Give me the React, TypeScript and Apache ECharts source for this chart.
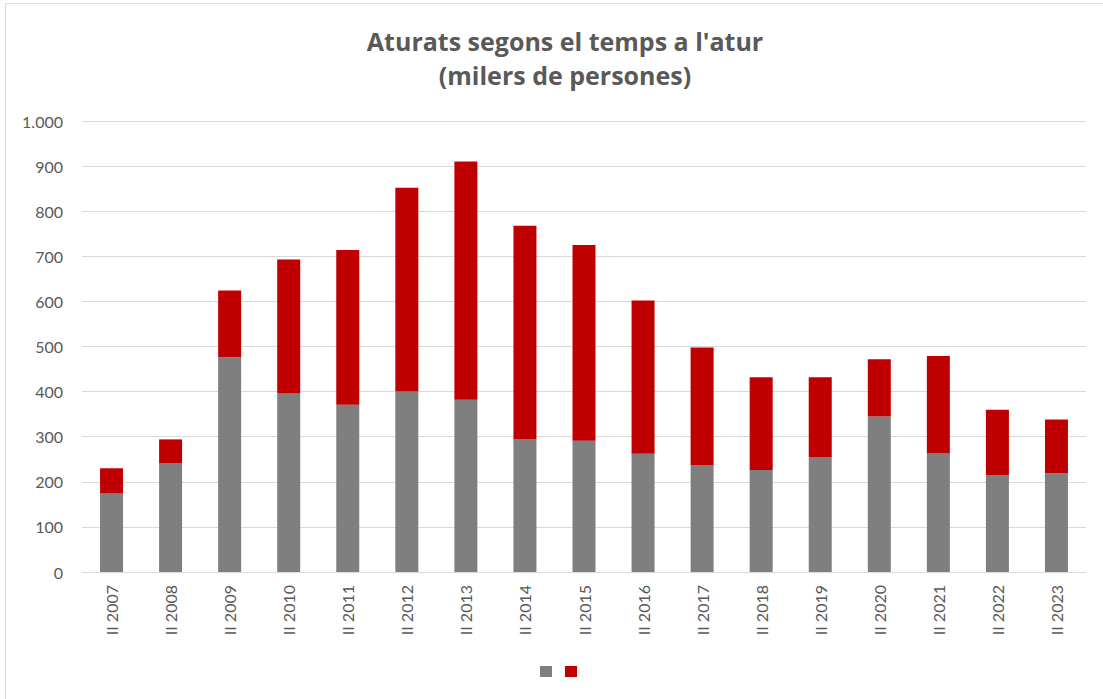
import React, { useEffect, useRef } from "react";
import * as echarts from "echarts";

const categories = [
  "II 2007", "II 2008", "II 2009", "II 2010", "II 2011", "II 2012", "II 2013", "II 2014", "II 2015",
  "II 2016", "II 2017", "II 2018", "II 2019", "II 2020", "II 2021", "II 2022", "II 2023",
];
// lower segment (grey)
const lessThanYear = [175, 241, 476, 396, 371, 400, 382, 295, 291, 262, 237, 226, 255, 345, 263, 215, 219];
// totals (top of the red segment)
const totals = [230, 294, 624, 693, 714, 852, 910, 768, 725, 602, 498, 432, 432, 472, 479, 360, 338];
const moreThanYear = totals.map((t, i) => t - lessThanYear[i]);

const titleText = "Aturats segons el temps a l'atur\n(milers de persones)";

export default function App() {
  const ref = useRef<HTMLDivElement>(null);
  useEffect(() => {
    if (!ref.current) return;
    const chart = echarts.init(ref.current, undefined, { renderer: "svg" });
    const font = "Lato, 'Open Sans', sans-serif";
    const titleFont = "'Open Sans', Lato, sans-serif";
    chart.setOption({
      animation: false,
      backgroundColor: "#ffffff",
      textStyle: { fontFamily: font },
      title: {
        text: titleText,
        left: 560,
        textAlign: "center",
        top: 19,
        textStyle: { fontFamily: titleFont, fontSize: 25, fontWeight: "bold", color: "#595959", lineHeight: 34 },
      },
      graphic: [
        {
          type: "rect",
          shape: { x: 5.5, y: 3.5, width: 1120, height: 720 },
          style: { fill: "none", stroke: "#d9d9d9", lineWidth: 1 },
          silent: true,
        },
      ],
      legend: {
        left: 535,
        top: 661,
        itemWidth: 12,
        itemHeight: 11,
        itemGap: 13,
        icon: "rect",
        formatter: () => "",
        data: ["\u200b", "\u200b\u200b"],
        selectedMode: false,
      },
      grid: { left: 82, right: 17, top: 121, bottom: 127, containLabel: false },
      xAxis: {
        type: "category",
        data: categories,
        axisLine: { lineStyle: { color: "#d9d9d9", width: 1 } },
        axisTick: { show: false },
        axisLabel: { rotate: 90, color: "#595959", fontSize: 16, margin: 13, fontFamily: font },
      },
      yAxis: {
        type: "value",
        min: 0,
        max: 1000,
        interval: 100,
        axisLine: { show: false },
        axisTick: { show: false },
        splitLine: { lineStyle: { color: "#d9d9d9", width: 1 } },
        axisLabel: {
          color: "#595959",
          fontSize: 16,
          margin: 19,
          fontFamily: font,
          formatter: (v: number) => (v >= 1000 ? "1.000" : String(v)),
        },
      },
      series: [
        {
          name: "\u200b",
          type: "bar",
          stack: "t",
          barWidth: 23,
          data: lessThanYear,
          itemStyle: { color: "#7f7f7f" },
        },
        {
          name: "\u200b\u200b",
          type: "bar",
          stack: "t",
          barWidth: 23,
          data: moreThanYear,
          itemStyle: { color: "#c00000" },
        },
      ],
    });
    return () => chart.dispose();
  }, []);
  return <div ref={ref} style={{ position: "fixed", left: 0, top: 0, width: 1103, height: 699 }} />;
}
